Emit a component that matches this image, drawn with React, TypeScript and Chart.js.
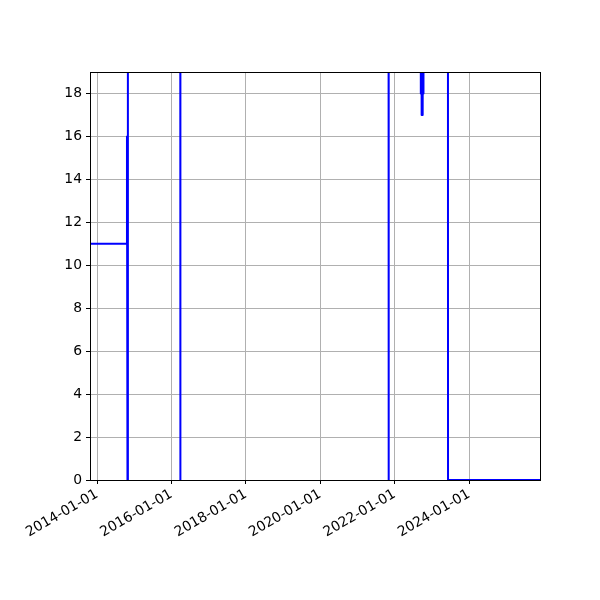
import React, { useEffect, useRef } from 'react';
import Chart from 'chart.js/auto';

// Series (values above 19 run off the top of the plot)
const dates = [
  '2013-10-24', '2014-10-20', '2014-10-22', '2014-10-27', '2014-10-31',
  '2016-03-28', '2016-03-29', '2016-03-30',
  '2021-11-02', '2021-11-03', '2021-11-04',
  '2022-09-13', '2022-09-15', '2022-09-19', '2022-09-23', '2022-09-28',
  '2022-10-03', '2022-10-07', '2022-10-10', '2022-10-12',
  '2023-06-08', '2023-06-09', '2025-11-28',
];
const values = [
  11, 11, 16, 0, 30,
  30, 0, 30,
  30, 0, 30,
  30, 18, 30, 17, 30,
  17, 30, 18, 30,
  30, 0, 0,
];

const xTickLabels = ['2014-01-01', '2016-01-01', '2018-01-01', '2020-01-01', '2022-01-01', '2024-01-01'];
const yTickValues = [0, 2, 4, 6, 8, 10, 12, 14, 16, 18];

const xMin = '2013-10-24';
const xMax = '2025-11-28';
const yMax = 19;

const toMs = (d: string) => Date.parse(d + 'T00:00:00Z');
const fmt = (v: number) => new Date(v).toISOString().slice(0, 10);

const FONT = { family: '"DejaVu Sans", sans-serif', size: 13.9 };

// matplotlib-style box round the plot, drawn above the line
const framePlugin = {
  id: 'frame',
  afterDraw(chart: any) {
    const { ctx, chartArea } = chart;
    ctx.save();
    ctx.strokeStyle = '#000';
    ctx.lineWidth = 1;
    ctx.strokeRect(
      Math.round(chartArea.left) + 0.5,
      Math.round(chartArea.top) + 0.5,
      Math.round(chartArea.right - chartArea.left),
      Math.round(chartArea.bottom - chartArea.top)
    );
    ctx.restore();
  },
};

const App: React.FC = () => {
  const canvasRef = useRef<HTMLCanvasElement | null>(null);

  useEffect(() => {
    if (!canvasRef.current) return;
    const points = dates.map((d, i) => ({ x: toMs(d), y: values[i] }));

    const chart = new Chart(canvasRef.current, {
      type: 'line',
      data: {
        datasets: [{
          data: points,
          borderColor: 'blue',
          borderWidth: 2,
          pointRadius: 0,
          tension: 0,
          fill: false,
          borderJoinStyle: 'round',
        }],
      },
      options: {
        responsive: false,
        animation: false,
        layout: { padding: { left: 0, top: 72, right: 60, bottom: 0 } },
        plugins: { legend: { display: false }, tooltip: { enabled: false } },
        scales: {
          x: {
            type: 'linear',
            min: toMs(xMin),
            max: toMs(xMax),
            afterBuildTicks: (scale: any) => {
              scale.ticks = xTickLabels.map((d) => ({ value: toMs(d) }));
            },
            afterFit: (scale: any) => { scale.height = 120; },
            ticks: {
              autoSkip: false,
              minRotation: 30,
              maxRotation: 30,
              color: '#000',
              font: FONT,
              padding: 2,
              callback: (v: any) => fmt(Number(v)),
            },
            grid: { color: '#b0b0b0', lineWidth: 1, tickLength: 4, tickColor: '#000' },
            border: { display: false },
          },
          y: {
            type: 'linear',
            min: 0,
            max: yMax,
            afterBuildTicks: (scale: any) => {
              scale.ticks = yTickValues.map((v) => ({ value: v }));
            },
            afterFit: (scale: any) => { scale.width = 90; },
            ticks: { color: '#000', font: FONT, padding: 4 },
            grid: { color: '#b0b0b0', lineWidth: 1, tickLength: 4, tickColor: '#000' },
            border: { display: false },
          },
        },
      },
      plugins: [framePlugin],
    });

    return () => chart.destroy();
  }, []);

  return (
    <div style={{ position: 'fixed', left: 0, top: 0, width: 600, height: 600, background: '#fff' }}>
      <canvas ref={canvasRef} width={600} height={600} />
    </div>
  );
};

export default App;
